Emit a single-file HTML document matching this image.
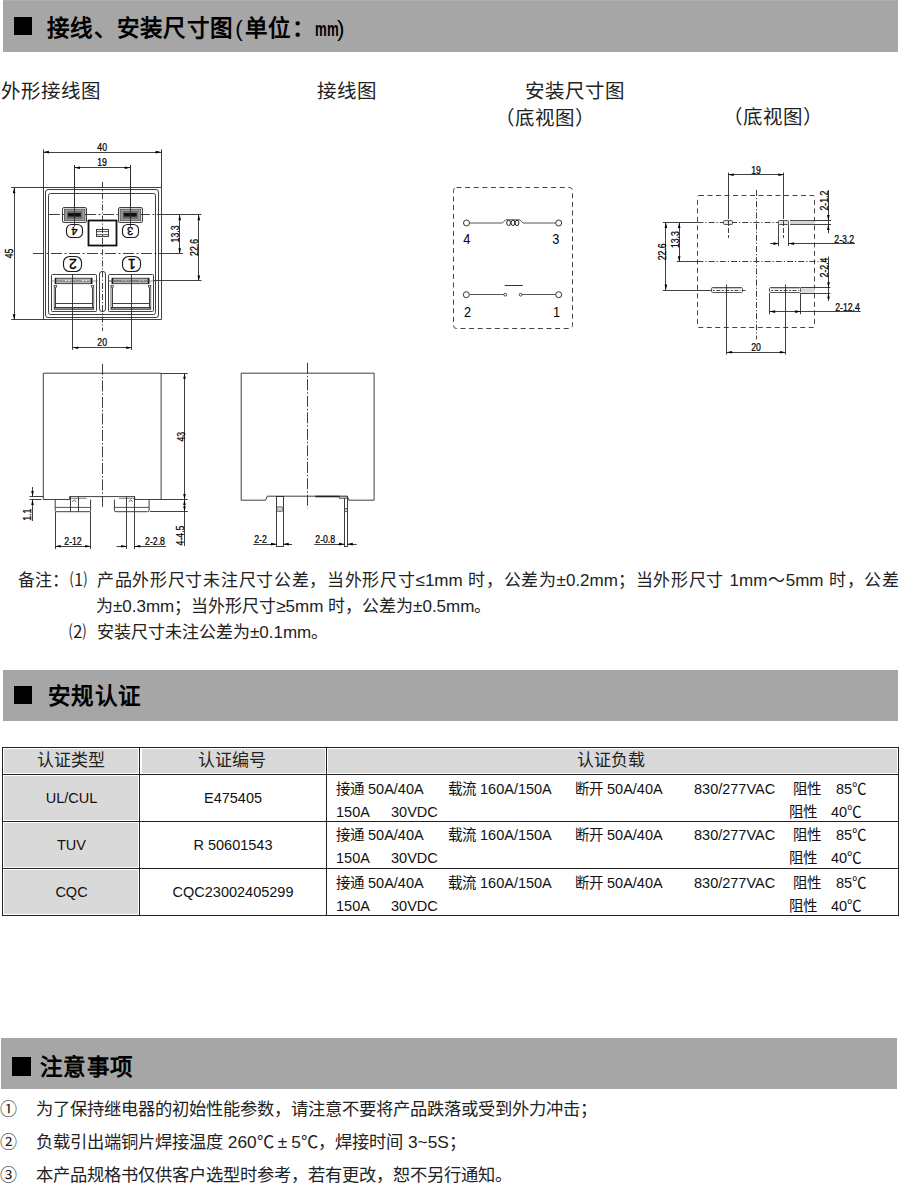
<!DOCTYPE html>
<html lang="zh-CN">
<head>
<meta charset="utf-8">
<style>
*{margin:0;padding:0;box-sizing:border-box}
html,body{width:900px;height:1185px;background:#fff;overflow:hidden}
body{position:relative;font-family:"Liberation Sans",sans-serif;color:#111}
.a{position:absolute;white-space:nowrap;line-height:1}
.bar{position:absolute;background:#a6a6a6;height:51px}
.sq{position:absolute;background:#000;width:18px;height:18px}
.bt{position:absolute;font-weight:bold;font-size:22.5px;line-height:1;white-space:nowrap;color:#000;letter-spacing:0.3px}
.lbl{font-size:19.5px;color:#222}
.hw{display:inline-block;width:0.52em;text-align:center;font-weight:normal}
.fw{display:inline-block;width:1em;text-align:center}
.mmw{display:inline-block;width:1em;font-size:20px}
.mmw span{display:inline-block;transform:scaleX(0.66);transform-origin:0 0}
.nt{font-size:17px;color:#222}
#tbl{position:absolute;left:2px;top:747px;width:897px;height:169px}
.cell{position:absolute;border-right:1px solid #333;border-bottom:1px solid #333}
.g{background:#d9d9d9}
.tc{font-size:14.5px;color:#111}
.th{font-size:17px;color:#222}
svg{position:absolute;left:0;top:0}
</style>
</head>
<body>
<!-- header bar 1 -->
<div class="bar" style="left:3px;top:0;width:895px;height:51.5px"></div>
<div style="position:absolute;left:3px;top:0;width:895px;height:1px;background:#afafaf"></div>
<div class="sq" style="left:14px;top:17px"></div>
<div class="bt" style="left:47px;top:17.5px">接线、安装尺寸图<span class="hw">(</span>单位：<span class="mmw"><span>mm</span></span><span class="hw">)</span></div>

<div class="a lbl" style="left:0.5px;top:81.5px">外形接线图</div>
<div class="a lbl" style="left:317px;top:81.5px">接线图</div>
<div class="a lbl" style="left:525px;top:81.5px">安装尺寸图</div>
<div class="a lbl" style="left:494.5px;top:109px">（底视图）</div>
<div class="a lbl" style="left:722.5px;top:107.5px">（底视图）</div>

<!-- notes -->
<div class="a nt" style="left:18px;top:571.5px">备注：</div>
<div class="a nt" style="left:70px;top:571.5px">⑴</div>
<div class="a nt" style="left:97px;top:571.5px;width:802px;text-align:justify;text-align-last:justify">产品外形尺寸未注尺寸公差，当外形尺寸≤1mm 时，公差为±0.2mm；当外形尺寸 1mm～5mm 时，公差</div>
<div class="a nt" style="left:96px;top:597.5px">为±0.3mm；当外形尺寸≥5mm 时，公差为±0.5mm。</div>
<div class="a nt" style="left:69px;top:623.5px">⑵</div>
<div class="a nt" style="left:97px;top:623.5px">安装尺寸未注公差为±0.1mm。</div>

<!-- header bar 2 -->
<div class="bar" style="left:3px;top:670px;width:895px;"></div>
<div class="sq" style="left:14px;top:686px"></div>
<div class="bt" style="left:48px;top:686px">安规认证</div>

<!-- table -->
<div style="position:absolute;left:3.8px;top:749px;width:134.2px;height:24.0px;background:#d9d9d9"></div>
<div style="position:absolute;left:141.8px;top:749px;width:182.8px;height:24.0px;background:#d9d9d9"></div>
<div style="position:absolute;left:327.8px;top:749px;width:569.2px;height:24.0px;background:#d9d9d9"></div>
<div style="position:absolute;left:3.8px;top:776px;width:134.2px;height:44.0px;background:#d9d9d9"></div>
<div style="position:absolute;left:3.8px;top:823px;width:134.2px;height:44.0px;background:#d9d9d9"></div>
<div style="position:absolute;left:3.8px;top:870px;width:134.2px;height:44.0px;background:#d9d9d9"></div>
<div style="position:absolute;left:2px;top:747px;width:897.0px;height:1.1px;background:#222"></div>
<div style="position:absolute;left:2px;top:774px;width:897.0px;height:1.1px;background:#222"></div>
<div style="position:absolute;left:2px;top:821px;width:897.0px;height:1.1px;background:#222"></div>
<div style="position:absolute;left:2px;top:868px;width:897.0px;height:1.1px;background:#222"></div>
<div style="position:absolute;left:2px;top:915px;width:897.0px;height:1.1px;background:#222"></div>
<div style="position:absolute;left:2px;top:747px;width:1.1px;height:169.0px;background:#222"></div>
<div style="position:absolute;left:139.2px;top:747px;width:1.2px;height:169.0px;background:#222"></div>
<div style="position:absolute;left:326px;top:747px;width:1.1px;height:169.0px;background:#222"></div>
<div style="position:absolute;left:898px;top:747px;width:1.1px;height:169.0px;background:#222"></div>
<div class="a th" style="left:37px;top:752px">认证类型</div>
<div class="a th" style="left:198px;top:752px">认证编号</div>
<div class="a th" style="left:577px;top:752px">认证负载</div>
<div class="a tc" style="left:3px;width:137px;text-align:center;top:790.9px">UL/CUL</div>
<div class="a tc" style="left:140px;width:186px;text-align:center;top:790.9px">E475405</div>
<div class="a tc" style="left:336px;top:781.5px">接通 50A/40A</div>
<div class="a tc" style="left:448px;top:781.5px">载流 160A/150A</div>
<div class="a tc" style="left:575px;top:781.5px">断开 50A/40A</div>
<div class="a tc" style="left:694px;top:781.5px">830/277VAC</div>
<div class="a tc" style="left:793px;top:781.5px">阻性</div>
<div class="a tc" style="left:836px;top:781.5px">85℃</div>
<div class="a tc" style="left:336px;top:804.5px">150A</div>
<div class="a tc" style="left:391px;top:804.5px">30VDC</div>
<div class="a tc" style="left:789px;top:804.5px">阻性</div>
<div class="a tc" style="left:831px;top:804.5px">40℃</div>
<div class="a tc" style="left:3px;width:137px;text-align:center;top:838.0px">TUV</div>
<div class="a tc" style="left:140px;width:186px;text-align:center;top:838.0px">R 50601543</div>
<div class="a tc" style="left:336px;top:828.3px">接通 50A/40A</div>
<div class="a tc" style="left:448px;top:828.3px">载流 160A/150A</div>
<div class="a tc" style="left:575px;top:828.3px">断开 50A/40A</div>
<div class="a tc" style="left:694px;top:828.3px">830/277VAC</div>
<div class="a tc" style="left:793px;top:828.3px">阻性</div>
<div class="a tc" style="left:836px;top:828.3px">85℃</div>
<div class="a tc" style="left:336px;top:851.3px">150A</div>
<div class="a tc" style="left:391px;top:851.3px">30VDC</div>
<div class="a tc" style="left:789px;top:851.3px">阻性</div>
<div class="a tc" style="left:831px;top:851.3px">40℃</div>
<div class="a tc" style="left:3px;width:137px;text-align:center;top:885.0px">CQC</div>
<div class="a tc" style="left:140px;width:186px;text-align:center;top:885.0px">CQC23002405299</div>
<div class="a tc" style="left:336px;top:875.7px">接通 50A/40A</div>
<div class="a tc" style="left:448px;top:875.7px">载流 160A/150A</div>
<div class="a tc" style="left:575px;top:875.7px">断开 50A/40A</div>
<div class="a tc" style="left:694px;top:875.7px">830/277VAC</div>
<div class="a tc" style="left:793px;top:875.7px">阻性</div>
<div class="a tc" style="left:836px;top:875.7px">85℃</div>
<div class="a tc" style="left:336px;top:898.7px">150A</div>
<div class="a tc" style="left:391px;top:898.7px">30VDC</div>
<div class="a tc" style="left:789px;top:898.7px">阻性</div>
<div class="a tc" style="left:831px;top:898.7px">40℃</div>

<!-- header bar 3 -->
<div class="bar" style="left:1px;top:1038px;width:896px;"></div>
<div class="sq" style="left:12px;top:1057px;width:18.5px;height:18.5px"></div>
<div class="bt" style="left:40px;top:1056.8px">注意事项</div>

<div class="a nt" style="left:0;top:1101px">①</div>
<div class="a nt" style="left:36px;top:1101px;font-size:17.3px">为了保持继电器的初始性能参数，请注意不要将产品跌落或受到外力冲击；</div>
<div class="a nt" style="left:0;top:1134px">②</div>
<div class="a nt" style="left:36px;top:1134px;font-size:17.3px">负载引出端铜片焊接温度 260<span class="fw">℃</span><span class="fw">±</span>5<span class="fw">℃</span>，焊接时间 3~5S；</div>
<div class="a nt" style="left:0;top:1167px">③</div>
<div class="a nt" style="left:36px;top:1167px;font-size:17.3px">本产品规格书仅供客户选型时参考，若有更改，恕不另行通知。</div>

<!-- DRAWINGS -->
<svg width="900" height="1185" viewBox="0 0 900 1185" font-family="Liberation Sans, sans-serif">
<line x1="43.5" y1="149.4" x2="43.5" y2="187.8" stroke="#2a2a2a" stroke-width="0.9"/>
<line x1="161.5" y1="149.4" x2="161.5" y2="187.8" stroke="#2a2a2a" stroke-width="0.9"/>
<line x1="43.4" y1="152.5" x2="161.1" y2="152.5" stroke="#2a2a2a" stroke-width="0.9"/>
<polygon points="43.4,152.1 48.9,150.8 48.9,153.4" fill="#000"/>
<polygon points="161.1,152.1 155.6,150.8 155.6,153.4" fill="#000"/>
<text x="0" y="0" font-size="10.5" text-anchor="middle" dominant-baseline="central" fill="#000" transform="translate(102.2,147.2) scale(0.83,1)" stroke="#000" stroke-width="0.25">40</text>
<line x1="74.5" y1="165.0" x2="74.5" y2="207.0" stroke="#2a2a2a" stroke-width="0.9"/>
<line x1="130.5" y1="165.0" x2="130.5" y2="207.0" stroke="#2a2a2a" stroke-width="0.9"/>
<line x1="74.5" y1="167.5" x2="130.2" y2="167.5" stroke="#2a2a2a" stroke-width="0.9"/>
<polygon points="74.5,167.8 80.0,166.5 80.0,169.1" fill="#000"/>
<polygon points="130.2,167.8 124.7,166.5 124.7,169.1" fill="#000"/>
<text x="0" y="0" font-size="10.5" text-anchor="middle" dominant-baseline="central" fill="#000" transform="translate(102.0,162.6) scale(0.83,1)" stroke="#000" stroke-width="0.25">19</text>
<line x1="11.2" y1="187.5" x2="161.1" y2="187.5" stroke="#2a2a2a" stroke-width="0.9"/>
<line x1="11.2" y1="319.5" x2="161.1" y2="319.5" stroke="#2a2a2a" stroke-width="0.9"/>
<line x1="43.5" y1="187.8" x2="43.5" y2="319.7" stroke="#2a2a2a" stroke-width="0.9"/>
<line x1="161.5" y1="187.8" x2="161.5" y2="319.7" stroke="#2a2a2a" stroke-width="0.9"/>
<rect x="45.5" y="189.5" width="113.0" height="128.0" rx="2.5" stroke="#2a2a2a" stroke-width="0.9" fill="none"/>
<rect x="48.5" y="193.5" width="107.0" height="121.0" rx="2" stroke="#2a2a2a" stroke-width="0.9" fill="none"/>
<line x1="14.5" y1="187.8" x2="14.5" y2="319.7" stroke="#2a2a2a" stroke-width="0.9"/>
<polygon points="14.1,187.8 12.8,193.3 15.4,193.3" fill="#000"/>
<polygon points="14.1,319.7 12.8,314.2 15.4,314.2" fill="#000"/>
<text x="0" y="0" font-size="10.5" text-anchor="middle" dominant-baseline="central" fill="#000" transform="translate(9.4,253.5) rotate(-90) scale(0.83,1)" stroke="#000" stroke-width="0.25">45</text>
<line x1="49.0" y1="214.5" x2="161.1" y2="214.5" stroke="#2a2a2a" stroke-width="0.9" stroke-dasharray="11 2.5 2 2.5"/>
<line x1="161.1" y1="214.5" x2="201.5" y2="214.5" stroke="#2a2a2a" stroke-width="0.9"/>
<line x1="33.0" y1="253.5" x2="161.1" y2="253.5" stroke="#2a2a2a" stroke-width="0.9" stroke-dasharray="11 2.5 2 2.5"/>
<line x1="161.1" y1="253.5" x2="183.0" y2="253.5" stroke="#2a2a2a" stroke-width="0.9"/>
<line x1="102.5" y1="182.0" x2="102.5" y2="331.0" stroke="#2a2a2a" stroke-width="0.9" stroke-dasharray="6 2 1.2 2"/>
<line x1="179.5" y1="214.8" x2="179.5" y2="253.8" stroke="#2a2a2a" stroke-width="0.9"/>
<polygon points="179.7,214.8 178.4,220.3 181.0,220.3" fill="#000"/>
<polygon points="179.7,253.8 178.4,248.3 181.0,248.3" fill="#000"/>
<text x="0" y="0" font-size="10.5" text-anchor="middle" dominant-baseline="central" fill="#000" transform="translate(174.9,234.0) rotate(-90) scale(0.83,1)" stroke="#000" stroke-width="0.25">13.3</text>
<line x1="198.5" y1="214.8" x2="198.5" y2="280.9" stroke="#2a2a2a" stroke-width="0.9"/>
<polygon points="198.8,214.8 197.5,220.3 200.1,220.3" fill="#000"/>
<polygon points="198.8,280.9 197.5,275.4 200.1,275.4" fill="#000"/>
<line x1="153.7" y1="280.5" x2="201.5" y2="280.5" stroke="#2a2a2a" stroke-width="0.9"/>
<text x="0" y="0" font-size="10.5" text-anchor="middle" dominant-baseline="central" fill="#000" transform="translate(194.1,247.5) rotate(-90) scale(0.83,1)" stroke="#000" stroke-width="0.25">22.6</text>
<rect x="62.5" y="207.5" width="24.0" height="15.0" rx="1.5" stroke="#2a2a2a" stroke-width="0.9" fill="none"/>
<rect x="64.3" y="209.1" width="20.7" height="11.7" stroke="#2a2a2a" stroke-width="0.6" fill="#9a9a9a"/>
<rect x="66.8" y="211.0" width="15.5" height="8.0" stroke="#2a2a2a" stroke-width="0" fill="#6f6f6f"/>
<rect x="68.0" y="213.0" width="12.8" height="3.6" stroke="#2a2a2a" stroke-width="0" fill="#111"/>
<line x1="74.5" y1="165.0" x2="74.5" y2="226.5" stroke="#2a2a2a" stroke-width="0.9"/>
<rect x="118.5" y="207.5" width="24.0" height="15.0" rx="1.5" stroke="#2a2a2a" stroke-width="0.9" fill="none"/>
<rect x="120.1" y="209.1" width="20.7" height="11.7" stroke="#2a2a2a" stroke-width="0.6" fill="#9a9a9a"/>
<rect x="122.6" y="211.0" width="15.5" height="8.0" stroke="#2a2a2a" stroke-width="0" fill="#6f6f6f"/>
<rect x="123.8" y="213.0" width="12.8" height="3.6" stroke="#2a2a2a" stroke-width="0" fill="#111"/>
<line x1="130.5" y1="165.0" x2="130.5" y2="226.5" stroke="#2a2a2a" stroke-width="0.9"/>
<rect x="66.5" y="224.5" width="16.0" height="13.0" rx="5" stroke="#1a1a1a" stroke-width="1.1" fill="none"/>
<text x="0" y="0" font-size="11" text-anchor="middle" dominant-baseline="central" fill="#000" transform="translate(74.5,231.0) rotate(180)" stroke="#000" stroke-width="0.35">4</text>
<rect x="122.5" y="224.5" width="16.0" height="13.0" rx="5" stroke="#1a1a1a" stroke-width="1.1" fill="none"/>
<text x="0" y="0" font-size="11" text-anchor="middle" dominant-baseline="central" fill="#000" transform="translate(130.3,231.0) rotate(180)" stroke="#000" stroke-width="0.35">3</text>
<rect x="63.5" y="256.5" width="18.0" height="15.0" rx="6" stroke="#1a1a1a" stroke-width="1.1" fill="none"/>
<text x="0" y="0" font-size="14" text-anchor="middle" dominant-baseline="central" fill="#000" transform="translate(72.8,264.0) rotate(180)" stroke="#000" stroke-width="0.4">2</text>
<rect x="122.5" y="256.5" width="18.0" height="15.0" rx="6" stroke="#1a1a1a" stroke-width="1.1" fill="none"/>
<text x="0" y="0" font-size="14" text-anchor="middle" dominant-baseline="central" fill="#000" transform="translate(131.8,264.0) rotate(180)" stroke="#000" stroke-width="0.4">1</text>
<rect x="88.5" y="220.5" width="28.0" height="25.0" stroke="#111" stroke-width="1.8" fill="none"/>
<rect x="96.5" y="229.5" width="12.0" height="7.0" stroke="#2a2a2a" stroke-width="0.9" fill="none"/>
<line x1="96.4" y1="231.6" x2="108.5" y2="231.6" stroke="#2a2a2a" stroke-width="0.8"/>
<line x1="96.4" y1="234.7" x2="108.5" y2="234.7" stroke="#2a2a2a" stroke-width="0.8"/>
<rect x="99.5" y="271.5" width="6.0" height="40.0" rx="2.5" stroke="#2a2a2a" stroke-width="0.9" fill="none"/>
<rect x="51.5" y="274.5" width="45.0" height="37.0" rx="1" stroke="#2a2a2a" stroke-width="0.9" fill="none"/>
<rect x="55.3" y="278.2" width="36.7" height="5.5" stroke="#2a2a2a" stroke-width="0.8" fill="#b3b3b3"/>
<line x1="55.5" y1="278.2" x2="55.5" y2="283.7" stroke="#111" stroke-width="1.4"/>
<line x1="91.5" y1="278.2" x2="91.5" y2="283.7" stroke="#111" stroke-width="1.4"/>
<line x1="52.3" y1="281.0" x2="97.7" y2="281.0" stroke="#555" stroke-width="0.6"/>
<line x1="65.3" y1="280.5" x2="72.3" y2="280.5" stroke="#fff" stroke-width="1.2" stroke-dasharray="1.6 1.6"/>
<line x1="82.3" y1="280.5" x2="89.3" y2="280.5" stroke="#fff" stroke-width="1.2" stroke-dasharray="1.6 1.6"/>
<path d="M53.9,285.6 L56.9,285.6 L55.7,288.2 Z" stroke="#2a2a2a" stroke-width="0.8" fill="#fff"/>
<path d="M94.1,285.6 L91.1,285.6 L92.3,288.2 Z" stroke="#2a2a2a" stroke-width="0.8" fill="#fff"/>
<line x1="55.5" y1="288.2" x2="55.5" y2="308.5" stroke="#2a2a2a" stroke-width="0.9"/>
<line x1="92.5" y1="288.2" x2="92.5" y2="308.5" stroke="#2a2a2a" stroke-width="0.9"/>
<line x1="54.3" y1="286.5" x2="54.3" y2="309.5" stroke="#2a2a2a" stroke-width="0.7"/>
<line x1="93.7" y1="286.5" x2="93.7" y2="309.5" stroke="#2a2a2a" stroke-width="0.7"/>
<line x1="55.7" y1="303.5" x2="92.3" y2="303.5" stroke="#2a2a2a" stroke-width="0.9"/>
<line x1="54.3" y1="307.5" x2="93.7" y2="307.5" stroke="#2a2a2a" stroke-width="0.9"/>
<rect x="54.3" y="307.8" width="39.4" height="1.8" stroke="#2a2a2a" stroke-width="0.6" fill="#9a9a9a"/>
<line x1="72.5" y1="274.3" x2="72.5" y2="350.0" stroke="#2a2a2a" stroke-width="0.9"/>
<rect x="108.5" y="274.5" width="45.0" height="37.0" rx="1" stroke="#2a2a2a" stroke-width="0.9" fill="none"/>
<rect x="112.0" y="278.2" width="37.0" height="5.5" stroke="#2a2a2a" stroke-width="0.8" fill="#b3b3b3"/>
<line x1="112.5" y1="278.2" x2="112.5" y2="283.7" stroke="#111" stroke-width="1.4"/>
<line x1="148.5" y1="278.2" x2="148.5" y2="283.7" stroke="#111" stroke-width="1.4"/>
<line x1="109.0" y1="281.0" x2="154.7" y2="281.0" stroke="#555" stroke-width="0.6"/>
<line x1="122.0" y1="280.5" x2="129.0" y2="280.5" stroke="#fff" stroke-width="1.2" stroke-dasharray="1.6 1.6"/>
<line x1="139.0" y1="280.5" x2="146.0" y2="280.5" stroke="#fff" stroke-width="1.2" stroke-dasharray="1.6 1.6"/>
<path d="M110.6,285.6 L113.6,285.6 L112.4,288.2 Z" stroke="#2a2a2a" stroke-width="0.8" fill="#fff"/>
<path d="M151.1,285.6 L148.1,285.6 L149.3,288.2 Z" stroke="#2a2a2a" stroke-width="0.8" fill="#fff"/>
<line x1="112.5" y1="288.2" x2="112.5" y2="308.5" stroke="#2a2a2a" stroke-width="0.9"/>
<line x1="149.5" y1="288.2" x2="149.5" y2="308.5" stroke="#2a2a2a" stroke-width="0.9"/>
<line x1="111.0" y1="286.5" x2="111.0" y2="309.5" stroke="#2a2a2a" stroke-width="0.7"/>
<line x1="150.7" y1="286.5" x2="150.7" y2="309.5" stroke="#2a2a2a" stroke-width="0.7"/>
<line x1="112.4" y1="303.5" x2="149.3" y2="303.5" stroke="#2a2a2a" stroke-width="0.9"/>
<line x1="111.0" y1="307.5" x2="150.7" y2="307.5" stroke="#2a2a2a" stroke-width="0.9"/>
<rect x="111.0" y="307.8" width="39.7" height="1.8" stroke="#2a2a2a" stroke-width="0.6" fill="#9a9a9a"/>
<line x1="131.5" y1="274.3" x2="131.5" y2="350.0" stroke="#2a2a2a" stroke-width="0.9"/>
<line x1="108.0" y1="280.9" x2="150.0" y2="280.9" stroke="#555" stroke-width="0.6"/>
<line x1="72.8" y1="347.5" x2="131.8" y2="347.5" stroke="#2a2a2a" stroke-width="0.9"/>
<polygon points="72.8,347.7 78.3,346.4 78.3,349.0" fill="#000"/>
<polygon points="131.8,347.7 126.3,346.4 126.3,349.0" fill="#000"/>
<text x="0" y="0" font-size="10.5" text-anchor="middle" dominant-baseline="central" fill="#000" transform="translate(102.2,342.6) scale(0.83,1)" stroke="#000" stroke-width="0.25">20</text>
<path d="M43.3,373.2 H161.1 V499.5 H134.7 V496.6 H69.6 V499.5 H43.3 Z" stroke="#2a2a2a" stroke-width="0.9" fill="none"/>
<line x1="71.0" y1="498.3" x2="86.5" y2="498.3" stroke="#2a2a2a" stroke-width="0.6"/>
<line x1="119.0" y1="498.3" x2="134.7" y2="498.3" stroke="#2a2a2a" stroke-width="0.6"/>
<path d="M55.2,499.5 V510.2 Q55.2,511.7 56.7,511.7 H89.1 Q90.6,511.7 90.6,510.2 V499.5" stroke="#2a2a2a" stroke-width="0.9" fill="none"/>
<line x1="55.2" y1="507.4" x2="90.6" y2="507.4" stroke="#2a2a2a" stroke-width="0.8"/>
<line x1="70.5" y1="496.6" x2="70.5" y2="511.7" stroke="#2a2a2a" stroke-width="0.9"/>
<line x1="78.5" y1="496.6" x2="78.5" y2="511.7" stroke="#2a2a2a" stroke-width="0.9"/>
<path d="M72.3,501.6 L74.3,500 L76.3,501.6" stroke="#2a2a2a" stroke-width="0.8" fill="none"/>
<path d="M114.4,499.5 V510.2 Q114.4,511.7 115.9,511.7 H147.6 Q149.1,511.7 149.1,510.2 V499.5" stroke="#2a2a2a" stroke-width="0.9" fill="none"/>
<line x1="114.4" y1="507.4" x2="149.1" y2="507.4" stroke="#2a2a2a" stroke-width="0.8"/>
<line x1="126.5" y1="496.6" x2="126.5" y2="511.7" stroke="#2a2a2a" stroke-width="0.9"/>
<line x1="134.5" y1="496.6" x2="134.5" y2="511.7" stroke="#2a2a2a" stroke-width="0.9"/>
<path d="M128.7,501.6 L130.7,500 L132.7,501.6" stroke="#2a2a2a" stroke-width="0.8" fill="none"/>
<line x1="102.5" y1="363.9" x2="102.5" y2="508.3" stroke="#2a2a2a" stroke-width="0.9" stroke-dasharray="11 2 1.5 2"/>
<line x1="161.1" y1="373.5" x2="187.8" y2="373.5" stroke="#2a2a2a" stroke-width="0.9"/>
<line x1="161.1" y1="499.5" x2="187.8" y2="499.5" stroke="#2a2a2a" stroke-width="0.9"/>
<line x1="150.0" y1="511.5" x2="187.8" y2="511.5" stroke="#2a2a2a" stroke-width="0.9"/>
<line x1="184.5" y1="373.2" x2="184.5" y2="546.0" stroke="#2a2a2a" stroke-width="0.9"/>
<polygon points="184.5,373.2 183.2,378.7 185.8,378.7" fill="#000"/>
<polygon points="184.5,499.5 183.2,494.0 185.8,494.0" fill="#000"/>
<polygon points="184.5,499.5 183.2,505.0 185.8,505.0" fill="#000"/>
<polygon points="184.5,511.7 183.2,506.2 185.8,506.2" fill="#000"/>
<text x="0" y="0" font-size="10.5" text-anchor="middle" dominant-baseline="central" fill="#000" transform="translate(181.2,436.7) rotate(-90) scale(0.83,1)" stroke="#000" stroke-width="0.25">43</text>
<text x="0" y="0" font-size="10.5" text-anchor="middle" dominant-baseline="central" fill="#000" transform="translate(179.8,535.5) rotate(-90) scale(0.83,1)" stroke="#000" stroke-width="0.25">4-4.5</text>
<line x1="29.5" y1="496.5" x2="43.3" y2="496.5" stroke="#2a2a2a" stroke-width="0.9"/>
<line x1="29.5" y1="499.5" x2="41.5" y2="499.5" stroke="#2a2a2a" stroke-width="0.9"/>
<line x1="32.5" y1="487.0" x2="32.5" y2="496.6" stroke="#2a2a2a" stroke-width="0.9"/>
<polygon points="32.5,496.6 31.2,491.1 33.8,491.1" fill="#000"/>
<line x1="32.5" y1="499.5" x2="32.5" y2="521.0" stroke="#2a2a2a" stroke-width="0.9"/>
<polygon points="32.5,499.5 31.2,505.0 33.8,505.0" fill="#000"/>
<text x="0" y="0" font-size="10.5" text-anchor="middle" dominant-baseline="central" fill="#000" transform="translate(27.6,514.8) rotate(-90) scale(0.83,1)" stroke="#000" stroke-width="0.25">1.1</text>
<line x1="55.5" y1="511.7" x2="55.5" y2="549.0" stroke="#2a2a2a" stroke-width="0.9"/>
<line x1="90.5" y1="511.7" x2="90.5" y2="549.0" stroke="#2a2a2a" stroke-width="0.9"/>
<line x1="55.2" y1="546.5" x2="90.6" y2="546.5" stroke="#2a2a2a" stroke-width="0.9"/>
<polygon points="55.2,546.2 60.7,544.9 60.7,547.5" fill="#000"/>
<polygon points="90.6,546.2 85.1,544.9 85.1,547.5" fill="#000"/>
<text x="0" y="0" font-size="10.5" text-anchor="middle" dominant-baseline="central" fill="#000" transform="translate(73.0,541.3) scale(0.83,1)" stroke="#000" stroke-width="0.25">2-12</text>
<line x1="126.5" y1="511.7" x2="126.5" y2="549.0" stroke="#2a2a2a" stroke-width="0.9"/>
<line x1="134.5" y1="511.7" x2="134.5" y2="549.0" stroke="#2a2a2a" stroke-width="0.9"/>
<line x1="116.5" y1="546.5" x2="126.7" y2="546.5" stroke="#2a2a2a" stroke-width="0.9"/>
<polygon points="126.7,546.2 121.2,544.9 121.2,547.5" fill="#000"/>
<line x1="134.7" y1="546.5" x2="166.0" y2="546.5" stroke="#2a2a2a" stroke-width="0.9"/>
<polygon points="134.7,546.2 140.2,544.9 140.2,547.5" fill="#000"/>
<text x="0" y="0" font-size="10.5" text-anchor="middle" dominant-baseline="central" fill="#000" transform="translate(155.0,541.3) scale(0.83,1)" stroke="#000" stroke-width="0.25">2-2.8</text>
<path d="M241.2,373.2 H374.1 V500.2 H348.9 L347.3,496.2 H267.2 L265.6,500.2 H241.2 Z" stroke="#2a2a2a" stroke-width="0.9" fill="none"/>
<line x1="307.5" y1="362.8" x2="307.5" y2="508.3" stroke="#2a2a2a" stroke-width="0.9" stroke-dasharray="11 2 1.5 2"/>
<rect x="276.5" y="496.5" width="7.0" height="50.0" stroke="#2a2a2a" stroke-width="0.9" fill="none"/>
<rect x="276.8" y="506.8" width="6.1" height="4.6" rx="1" stroke="#2a2a2a" stroke-width="0.6" fill="#cfcfcf"/>
<rect x="344.5" y="496.5" width="3.0" height="50.0" stroke="#2a2a2a" stroke-width="0.9" fill="none"/>
<rect x="344.6" y="508.3" width="2.6" height="3.1" stroke="#2a2a2a" stroke-width="0.6" fill="#cfcfcf"/>
<line x1="315.4" y1="496.5" x2="339.5" y2="496.5" stroke="#222" stroke-width="1.6"/>
<rect x="339.5" y="496.2" width="7.8" height="2.1" stroke="#2a2a2a" stroke-width="0.6" fill="#bbb"/>
<line x1="253.2" y1="544.5" x2="276.5" y2="544.5" stroke="#2a2a2a" stroke-width="0.9"/>
<polygon points="276.5,544.1 271.0,542.8 271.0,545.4" fill="#000"/>
<line x1="283.2" y1="544.5" x2="292.1" y2="544.5" stroke="#2a2a2a" stroke-width="0.9"/>
<polygon points="283.2,544.1 288.7,542.8 288.7,545.4" fill="#000"/>
<text x="0" y="0" font-size="10.5" text-anchor="middle" dominant-baseline="central" fill="#000" transform="translate(260.5,539.6) scale(0.83,1)" stroke="#000" stroke-width="0.25">2-2</text>
<line x1="314.3" y1="544.5" x2="344.5" y2="544.5" stroke="#2a2a2a" stroke-width="0.9"/>
<polygon points="344.5,544.1 339.0,542.8 339.0,545.4" fill="#000"/>
<line x1="347.3" y1="544.5" x2="356.6" y2="544.5" stroke="#2a2a2a" stroke-width="0.9"/>
<polygon points="347.3,544.1 352.8,542.8 352.8,545.4" fill="#000"/>
<text x="0" y="0" font-size="10.5" text-anchor="middle" dominant-baseline="central" fill="#000" transform="translate(325.2,539.6) scale(0.83,1)" stroke="#000" stroke-width="0.25">2-0.8</text>
<rect x="453.5" y="187.5" width="119.0" height="141.0" rx="3" stroke="#444" stroke-width="1.0" fill="none" stroke-dasharray="5 3.6"/>
<circle cx="466.5" cy="223.0" r="3.0" stroke="#333" stroke-width="1" fill="none"/>
<circle cx="558.7" cy="223.0" r="3.0" stroke="#333" stroke-width="1" fill="none"/>
<path d="M469.5,223 H502.4 L505.5,219.8 H520 L523,223 H555.7" stroke="#555" stroke-width="1" fill="none"/>
<ellipse cx="508.6" cy="222.9" rx="1.9" ry="2.7" stroke="#222" stroke-width="1" fill="none"/>
<ellipse cx="512.9" cy="222.9" rx="1.9" ry="2.7" stroke="#222" stroke-width="1" fill="none"/>
<ellipse cx="517.0" cy="222.9" rx="1.9" ry="2.7" stroke="#222" stroke-width="1" fill="none"/>
<circle cx="466.3" cy="294.7" r="3.0" stroke="#333" stroke-width="1" fill="none"/>
<circle cx="558.7" cy="294.7" r="3.0" stroke="#333" stroke-width="1" fill="none"/>
<line x1="469.3" y1="294.5" x2="503.8" y2="294.5" stroke="#555" stroke-width="1"/>
<line x1="522.0" y1="294.5" x2="555.7" y2="294.5" stroke="#555" stroke-width="1"/>
<circle cx="505.3" cy="294.7" r="1.4" stroke="#333" stroke-width="0.9" fill="none"/>
<circle cx="520.6" cy="294.7" r="1.4" stroke="#333" stroke-width="0.9" fill="none"/>
<line x1="504.7" y1="285.5" x2="522.8" y2="285.5" stroke="#333" stroke-width="1"/>
<text x="0" y="0" font-size="15" text-anchor="middle" dominant-baseline="central" fill="#000" transform="translate(466.7,238.7) scale(0.85,1)">4</text>
<text x="0" y="0" font-size="15" text-anchor="middle" dominant-baseline="central" fill="#000" transform="translate(555.9,238.7) scale(0.85,1)">3</text>
<text x="0" y="0" font-size="15" text-anchor="middle" dominant-baseline="central" fill="#000" transform="translate(467.5,311.4) scale(0.85,1)">2</text>
<text x="0" y="0" font-size="15" text-anchor="middle" dominant-baseline="central" fill="#000" transform="translate(556.6,311.4) scale(0.85,1)">1</text>
<rect x="697.5" y="195.5" width="117.0" height="132.0" rx="1.5" stroke="#444" stroke-width="1.0" fill="none" stroke-dasharray="5 3.5"/>
<line x1="756.5" y1="190.0" x2="756.5" y2="339.3" stroke="#2a2a2a" stroke-width="0.9" stroke-dasharray="6 2 1.2 2"/>
<line x1="662.8" y1="222.5" x2="697.4" y2="222.5" stroke="#2a2a2a" stroke-width="0.9"/>
<line x1="697.4" y1="222.5" x2="779.0" y2="222.5" stroke="#2a2a2a" stroke-width="0.9" stroke-dasharray="6 2 1.2 2"/>
<line x1="676.8" y1="261.5" x2="697.4" y2="261.5" stroke="#2a2a2a" stroke-width="0.9"/>
<line x1="697.4" y1="261.5" x2="828.5" y2="261.5" stroke="#2a2a2a" stroke-width="0.9" stroke-dasharray="6 2 1.2 2"/>
<line x1="662.8" y1="290.5" x2="711.3" y2="290.5" stroke="#2a2a2a" stroke-width="0.9"/>
<rect x="723.5" y="220.5" width="9.0" height="4.0" rx="1" stroke="#444" stroke-width="0.9" fill="#e0e0e0"/>
<line x1="728.5" y1="172.5" x2="728.5" y2="214.0" stroke="#2a2a2a" stroke-width="0.9"/>
<line x1="728.5" y1="214.0" x2="728.5" y2="238.0" stroke="#2a2a2a" stroke-width="0.9" stroke-dasharray="5 2"/>
<rect x="778.5" y="220.5" width="10.0" height="4.0" rx="1" stroke="#444" stroke-width="0.9" fill="#e0e0e0"/>
<line x1="783.5" y1="172.5" x2="783.5" y2="214.0" stroke="#2a2a2a" stroke-width="0.9"/>
<line x1="783.5" y1="214.0" x2="783.5" y2="238.0" stroke="#2a2a2a" stroke-width="0.9" stroke-dasharray="5 2"/>
<line x1="790.0" y1="220.5" x2="831.1" y2="220.5" stroke="#2a2a2a" stroke-width="0.9"/>
<line x1="790.0" y1="224.5" x2="831.1" y2="224.5" stroke="#2a2a2a" stroke-width="0.9"/>
<rect x="790.0" y="220.9" width="24.7" height="3.2" stroke="#2a2a2a" stroke-width="0" fill="#d4d4d4"/>
<line x1="778.5" y1="224.4" x2="778.5" y2="246.0" stroke="#2a2a2a" stroke-width="0.9"/>
<line x1="788.5" y1="224.4" x2="788.5" y2="246.0" stroke="#2a2a2a" stroke-width="0.9"/>
<line x1="728.2" y1="174.5" x2="783.8" y2="174.5" stroke="#2a2a2a" stroke-width="0.9"/>
<polygon points="728.2,174.8 733.7,173.5 733.7,176.1" fill="#000"/>
<polygon points="783.8,174.8 778.3,173.5 778.3,176.1" fill="#000"/>
<text x="0" y="0" font-size="10.5" text-anchor="middle" dominant-baseline="central" fill="#000" transform="translate(756.1,169.8) scale(0.83,1)" stroke="#000" stroke-width="0.25">19</text>
<line x1="828.5" y1="190.0" x2="828.5" y2="233.3" stroke="#2a2a2a" stroke-width="0.9"/>
<polygon points="828.3,220.6 827.0,215.1 829.6,215.1" fill="#000"/>
<polygon points="828.3,224.4 827.0,229.9 829.6,229.9" fill="#000"/>
<text x="0" y="0" font-size="10.5" text-anchor="middle" dominant-baseline="central" fill="#000" transform="translate(823.9,200.6) rotate(-90) scale(0.83,1)" stroke="#000" stroke-width="0.25">2-1.2</text>
<line x1="770.0" y1="243.5" x2="778.9" y2="243.5" stroke="#2a2a2a" stroke-width="0.9"/>
<polygon points="778.9,243.6 773.4,242.3 773.4,244.9" fill="#000"/>
<line x1="788.6" y1="243.5" x2="855.0" y2="243.5" stroke="#2a2a2a" stroke-width="0.9"/>
<polygon points="788.6,243.6 794.1,242.3 794.1,244.9" fill="#000"/>
<text x="0" y="0" font-size="10.5" text-anchor="middle" dominant-baseline="central" fill="#000" transform="translate(844.2,238.7) scale(0.83,1)" stroke="#000" stroke-width="0.25">2-3.2</text>
<line x1="679.5" y1="222.5" x2="679.5" y2="261.8" stroke="#2a2a2a" stroke-width="0.9"/>
<polygon points="679.2,222.5 677.9,228.0 680.5,228.0" fill="#000"/>
<polygon points="679.2,261.8 677.9,256.3 680.5,256.3" fill="#000"/>
<text x="0" y="0" font-size="10.5" text-anchor="middle" dominant-baseline="central" fill="#000" transform="translate(675.6,239.6) rotate(-90) scale(0.83,1)" stroke="#000" stroke-width="0.25">13.3</text>
<line x1="665.5" y1="222.5" x2="665.5" y2="290.0" stroke="#2a2a2a" stroke-width="0.9"/>
<polygon points="665.9,222.5 664.6,228.0 667.2,228.0" fill="#000"/>
<polygon points="665.9,290.0 664.6,284.5 667.2,284.5" fill="#000"/>
<text x="0" y="0" font-size="10.5" text-anchor="middle" dominant-baseline="central" fill="#000" transform="translate(662.2,251.8) rotate(-90) scale(0.83,1)" stroke="#000" stroke-width="0.25">22.6</text>
<rect x="711.5" y="287.5" width="31.0" height="5.0" rx="1.2" stroke="#444" stroke-width="0.9" fill="#fff"/>
<line x1="712.3" y1="288.6" x2="741.0" y2="288.6" stroke="#aaa" stroke-width="0.8"/>
<line x1="712.8" y1="290.5" x2="740.5" y2="290.5" stroke="#333" stroke-width="0.9" stroke-dasharray="2 1.5 4 1.5"/>
<rect x="769.5" y="287.5" width="31.0" height="5.0" rx="1.2" stroke="#444" stroke-width="0.9" fill="#fff"/>
<line x1="770.6" y1="288.6" x2="799.6" y2="288.6" stroke="#aaa" stroke-width="0.8"/>
<line x1="771.1" y1="290.5" x2="799.1" y2="290.5" stroke="#333" stroke-width="0.9" stroke-dasharray="2 1.5 4 1.5"/>
<line x1="742.0" y1="290.5" x2="745.4" y2="290.5" stroke="#2a2a2a" stroke-width="0.9"/>
<line x1="726.5" y1="284.5" x2="726.5" y2="354.5" stroke="#2a2a2a" stroke-width="0.9"/>
<line x1="785.5" y1="284.5" x2="785.5" y2="354.5" stroke="#2a2a2a" stroke-width="0.9"/>
<line x1="800.6" y1="287.5" x2="830.4" y2="287.5" stroke="#2a2a2a" stroke-width="0.9"/>
<line x1="800.6" y1="293.5" x2="830.4" y2="293.5" stroke="#2a2a2a" stroke-width="0.9"/>
<rect x="801.0" y="288.1" width="13.7" height="4.7" stroke="#2a2a2a" stroke-width="0" fill="#dadada"/>
<line x1="828.5" y1="256.6" x2="828.5" y2="301.0" stroke="#2a2a2a" stroke-width="0.9"/>
<polygon points="828.5,287.8 827.2,282.3 829.8,282.3" fill="#000"/>
<polygon points="828.5,293.1 827.2,298.6 829.8,298.6" fill="#000"/>
<text x="0" y="0" font-size="10.5" text-anchor="middle" dominant-baseline="central" fill="#000" transform="translate(824.3,267.5) rotate(-90) scale(0.83,1)" stroke="#000" stroke-width="0.25">2-2.4</text>
<line x1="769.5" y1="293.1" x2="769.5" y2="314.3" stroke="#2a2a2a" stroke-width="0.9"/>
<line x1="800.5" y1="293.1" x2="800.5" y2="314.3" stroke="#2a2a2a" stroke-width="0.9"/>
<line x1="769.6" y1="311.5" x2="860.7" y2="311.5" stroke="#2a2a2a" stroke-width="0.9"/>
<polygon points="769.6,311.6 775.1,310.3 775.1,312.9" fill="#000"/>
<polygon points="800.6,311.6 795.1,310.3 795.1,312.9" fill="#000"/>
<text x="0" y="0" font-size="10.5" text-anchor="middle" dominant-baseline="central" fill="#000" transform="translate(847.5,307.5) scale(0.83,1)" stroke="#000" stroke-width="0.25">2-12.4</text>
<line x1="726.6" y1="352.5" x2="785.4" y2="352.5" stroke="#2a2a2a" stroke-width="0.9"/>
<polygon points="726.6,352.2 732.1,350.9 732.1,353.5" fill="#000"/>
<polygon points="785.4,352.2 779.9,350.9 779.9,353.5" fill="#000"/>
<text x="0" y="0" font-size="10.5" text-anchor="middle" dominant-baseline="central" fill="#000" transform="translate(756.1,347.6) scale(0.83,1)" stroke="#000" stroke-width="0.25">20</text>
</svg>
</body>
</html>
